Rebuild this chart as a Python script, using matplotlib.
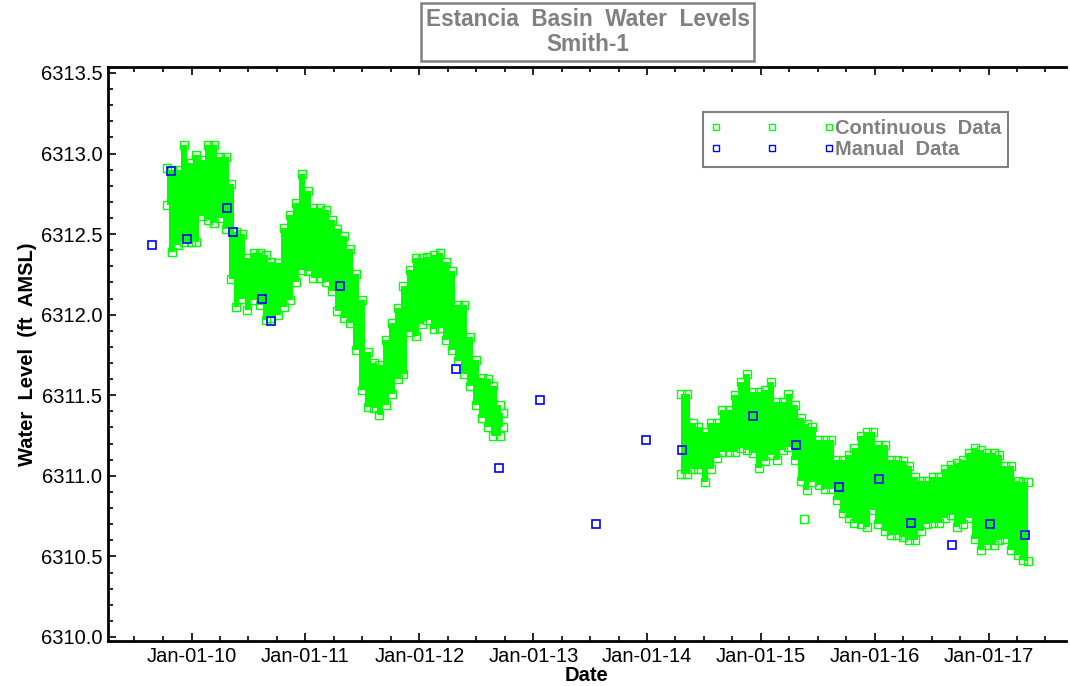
import datetime as dt
import matplotlib
matplotlib.use("Agg")
import matplotlib.pyplot as plt
import matplotlib.dates as mdates
from matplotlib.ticker import MultipleLocator, FormatStrFormatter
from matplotlib.lines import Line2D

plt.rcParams['font.family'] = ['Liberation Sans', 'DejaVu Sans']

# ---------------- data ----------------
# Continuous record, segment 1: decimal year, upper / lower envelope (ft AMSL)
seg1_t = [2009.78, 2009.83, 2009.88, 2009.93, 2009.99, 2010.04, 2010.09, 2010.14, 2010.20, 2010.25,
          2010.30, 2010.35, 2010.39, 2010.44, 2010.49, 2010.55, 2010.60, 2010.65, 2010.70, 2010.76,
          2010.81, 2010.86, 2010.92, 2010.97, 2011.02, 2011.07, 2011.13, 2011.18, 2011.23, 2011.28,
          2011.34, 2011.39, 2011.44, 2011.50, 2011.55, 2011.60, 2011.65, 2011.71, 2011.76, 2011.81,
          2011.86, 2011.92, 2011.97, 2012.02, 2012.07, 2012.13, 2012.18, 2012.23, 2012.29, 2012.34,
          2012.39, 2012.44, 2012.50, 2012.55, 2012.60, 2012.65, 2012.71, 2012.73]
seg1_hi = [6312.91, 6312.90, 6312.90, 6313.05, 6312.94, 6312.99, 6312.96, 6313.05, 6313.05, 6312.98,
           6312.98, 6312.81, 6312.51, 6312.50, 6312.35, 6312.38, 6312.38, 6312.37, 6312.33, 6312.32,
           6312.54, 6312.62, 6312.69, 6312.87, 6312.77, 6312.66, 6312.66, 6312.65, 6312.59, 6312.53,
           6312.49, 6312.41, 6312.25, 6312.09, 6311.77, 6311.70, 6311.69, 6311.84, 6311.95, 6312.04,
           6312.18, 6312.28, 6312.35, 6312.35, 6312.36, 6312.37, 6312.38, 6312.33, 6312.27, 6312.06,
           6312.06, 6311.86, 6311.72, 6311.61, 6311.60, 6311.56, 6311.44, 6311.39]
seg1_lo = [6312.68, 6312.39, 6312.43, 6312.45, 6312.45, 6312.45, 6312.61, 6312.59, 6312.57, 6312.60,
           6312.53, 6312.22, 6312.05, 6312.10, 6312.03, 6312.09, 6312.06, 6311.97, 6311.98, 6312.00,
           6312.05, 6312.09, 6312.20, 6312.28, 6312.27, 6312.23, 6312.23, 6312.20, 6312.15, 6312.02,
           6311.98, 6311.95, 6311.78, 6311.53, 6311.43, 6311.42, 6311.38, 6311.44, 6311.51, 6311.60,
           6311.63, 6311.89, 6311.87, 6311.94, 6311.97, 6311.91, 6311.92, 6311.84, 6311.78, 6311.71,
           6311.63, 6311.56, 6311.44, 6311.36, 6311.30, 6311.25, 6311.25, 6311.30]

# Continuous record, segment 2
seg2_t = [2014.30, 2014.35, 2014.40, 2014.45, 2014.51, 2014.56, 2014.61, 2014.66, 2014.72, 2014.77,
          2014.82, 2014.88, 2014.93, 2014.98, 2015.03, 2015.09, 2015.14, 2015.19, 2015.24, 2015.30,
          2015.35, 2015.40, 2015.45, 2015.51, 2015.56, 2015.61, 2015.67, 2015.72, 2015.77, 2015.82,
          2015.88, 2015.93, 2015.98, 2016.03, 2016.09, 2016.14, 2016.19, 2016.25, 2016.30, 2016.35,
          2016.40, 2016.46, 2016.51, 2016.56, 2016.61, 2016.67, 2016.72, 2016.77, 2016.82, 2016.88,
          2016.93, 2016.98, 2017.04, 2017.09, 2017.14, 2017.19, 2017.25, 2017.30, 2017.34]
seg2_hi = [6311.51, 6311.51, 6311.33, 6311.30, 6311.27, 6311.33, 6311.33, 6311.41, 6311.41, 6311.50,
           6311.58, 6311.63, 6311.52, 6311.52, 6311.53, 6311.58, 6311.46, 6311.46, 6311.51, 6311.44,
           6311.36, 6311.32, 6311.30, 6311.22, 6311.22, 6311.22, 6311.10, 6311.10, 6311.13, 6311.17,
           6311.25, 6311.27, 6311.27, 6311.19, 6311.19, 6311.10, 6311.10, 6311.09, 6311.06, 6310.99,
           6310.97, 6310.97, 6310.99, 6310.99, 6311.04, 6311.07, 6311.08, 6311.10, 6311.14, 6311.17,
           6311.16, 6311.14, 6311.14, 6311.13, 6311.06, 6311.06, 6310.97, 6310.96, 6310.96]
seg2_lo = [6311.01, 6311.01, 6311.04, 6311.04, 6310.96, 6311.04, 6311.11, 6311.15, 6311.15, 6311.15,
           6311.17, 6311.16, 6311.14, 6311.05, 6311.09, 6311.13, 6311.10, 6311.16, 6311.18, 6311.10,
           6310.97, 6310.91, 6310.96, 6310.94, 6310.92, 6310.92, 6310.85, 6310.77, 6310.74, 6310.71,
           6310.70, 6310.68, 6310.79, 6310.70, 6310.66, 6310.63, 6310.63, 6310.62, 6310.60, 6310.60,
           6310.66, 6310.70, 6310.71, 6310.71, 6310.74, 6310.76, 6310.68, 6310.70, 6310.74, 6310.61,
           6310.54, 6310.57, 6310.57, 6310.60, 6310.61, 6310.54, 6310.51, 6310.48, 6310.47]

# isolated continuous reading
cont_extra_t = [2015.38]
cont_extra_v = [6310.73]

# Manual measurements
manual_dates = ["2009-08-26", "2009-10-26", "2009-12-16", "2010-04-23", "2010-05-15",
                "2010-08-13", "2010-09-11", "2011-04-23", "2012-04-27", "2012-09-12",
                "2013-01-22", "2013-07-20", "2013-12-27", "2014-04-23", "2014-12-05",
                "2015-04-23", "2015-09-09", "2016-01-13", "2016-04-27", "2016-09-05",
                "2017-01-04", "2017-04-27"]
manual_vals = [6312.43, 6312.89, 6312.47, 6312.66, 6312.51,
               6312.10, 6311.96, 6312.18, 6311.66, 6311.05,
               6311.47, 6310.70, 6311.22, 6311.16, 6311.37,
               6311.19, 6310.93, 6310.98, 6310.71, 6310.57,
               6310.70, 6310.63]

title_lines = ["Estancia  Basin  Water  Levels", "Smith-1"]
legend_labels = ["Continuous  Data", "Manual  Data"]
x_label = "Date"
y_label = "Water  Level  (ft  AMSL)"


def dec_to_num(t):
    y = int(t)
    start = dt.datetime(y, 1, 1)
    end = dt.datetime(y + 1, 1, 1)
    return mdates.date2num(start + (end - start) * (t - y))


# ---------------- figure ----------------
W, H = 1070, 686
fig = plt.figure(figsize=(W / 100, H / 100), dpi=100)
L, R, T, B = 108, 1066, 67, 641
ax = fig.add_axes([L / W, 1 - B / H, (R - L) / W, (B - T) / H])

GREEN = '#00ff00'
BLUE = '#0000ff'
GRAY = '#808080'

for ts, hi, lo in [(seg1_t, seg1_hi, seg1_lo), (seg2_t, seg2_hi, seg2_lo)]:
    x = [dec_to_num(t) for t in ts]
    ax.fill_between(x, lo, hi, step='mid', color=GREEN, lw=0, zorder=2)
    ax.plot(x, hi, ls='none', marker='s', ms=5.5, mfc='none', mec=GREEN, mew=1.0, zorder=3)
    ax.plot(x, lo, ls='none', marker='s', ms=5.5, mfc='none', mec=GREEN, mew=1.0, zorder=3)

ax.plot([dec_to_num(t) for t in cont_extra_t], cont_extra_v, ls='none', marker='s', ms=5.5,
        mfc='none', mec=GREEN, mew=1.0, zorder=3)

mdt = [mdates.date2num(dt.datetime.strptime(d, "%Y-%m-%d")) for d in manual_dates]
ax.plot(mdt, manual_vals, ls='none', marker='s', ms=6, mfc='none', mec=BLUE, mew=1.2, zorder=4)

# axes ranges
ax.set_xlim(dec_to_num(2009.265), dec_to_num(2017.676))
ax.set_ylim(6309.975, 6313.537)

ax.xaxis.set_major_locator(mdates.YearLocator())
ax.xaxis.set_minor_locator(mdates.MonthLocator(bymonth=[4, 7, 10]))
ax.xaxis.set_major_formatter(mdates.DateFormatter('%b-%d-%y'))
ax.yaxis.set_major_locator(MultipleLocator(0.5))
ax.yaxis.set_minor_locator(MultipleLocator(0.1))
ax.yaxis.set_major_formatter(FormatStrFormatter('%.1f'))

ax.tick_params(which='both', direction='in', top=True, right=False, color='black', width=1.2)
ax.tick_params(which='major', length=6, labelsize=14.5, pad=4)
ax.tick_params(which='minor', length=3.5)
ax.spines['right'].set_visible(False)
for s in ['left', 'top', 'bottom']:
    ax.spines[s].set_linewidth(2)

ax.set_xlabel(x_label, fontsize=14.5, fontweight='bold', labelpad=0)
ax.set_ylabel(y_label, fontsize=14.5, fontweight='bold', labelpad=3)

# legend
FS = 14.5
handles = [Line2D([], [], ls='none', marker='s', ms=4.5, mfc='none', mec=GREEN, mew=1.0),
           Line2D([], [], ls='none', marker='s', ms=4.5, mfc='none', mec=BLUE, mew=1.0)]
leg = ax.legend(handles, legend_labels, loc='upper left',
                bbox_to_anchor=((703 - L) / (R - L), (B - 112) / (B - T)),
                numpoints=3, handlelength=6.2, handletextpad=0.0, borderpad=0.35,
                labelspacing=0.12, borderaxespad=0, fancybox=False, framealpha=1,
                prop={'size': FS, 'weight': 'bold'}, labelcolor=GRAY)
leg.get_frame().set_edgecolor(GRAY)
leg.get_frame().set_linewidth(1.5)

# title box
fig.text(587.5 / W, 1 - 32 / H, "\n".join(title_lines), ha='center', va='center',
         fontsize=16.3, fontweight='bold', color=GRAY, linespacing=1.15,
         bbox=dict(boxstyle='square,pad=0.2', fc='white', ec=GRAY, lw=1.8))

fig.savefig("out.png", dpi=100)
